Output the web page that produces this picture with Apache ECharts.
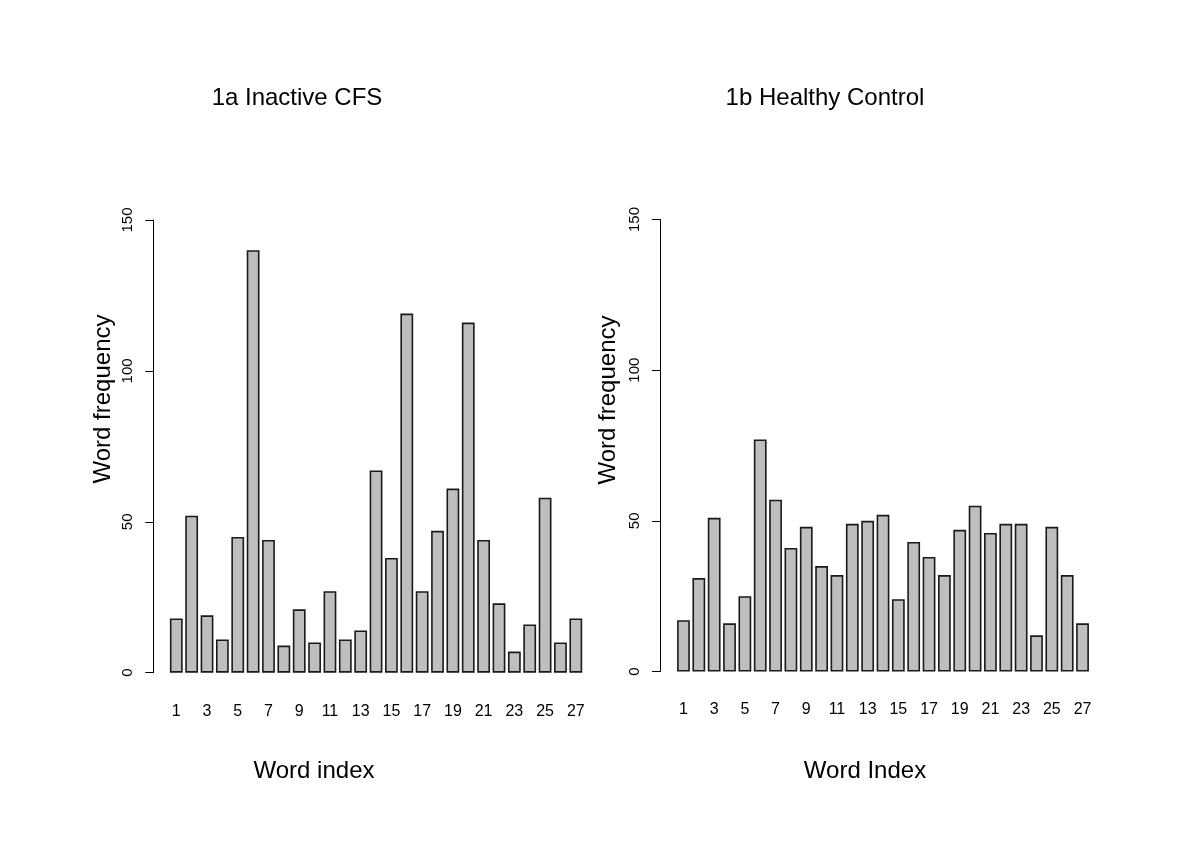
<!DOCTYPE html>
<html>
<head>
<meta charset="utf-8">
<script src="https://cdn.jsdelivr.net/npm/echarts@6/dist/echarts.min.js"></script>
<style>
  html, body { margin: 0; padding: 0; background: #fff; }
  #chart { width: 1200px; height: 847px; }
</style>
</head>
<body>
<div id="chart"></div>
<script>
const wordIndex = ['1','2','3','4','5','6','7','8','9','10','11','12','13','14','15','16','17','18','19','20','21','22','23','24','25','26','27'];
const inactiveCFS = [18, 52, 19, 11, 45, 140, 44, 9, 21, 10, 27, 11, 14, 67, 38, 119, 27, 47, 61, 116, 44, 23, 7, 16, 58, 10, 18];
const healthyControl = [17, 31, 51, 16, 25, 77, 57, 41, 48, 35, 32, 49, 50, 52, 24, 43, 38, 32, 47, 55, 46, 49, 49, 12, 48, 32, 16];
const yTicks = [0, 50, 100, 150];
const panelTitles = ['1a Inactive CFS', '1b Healthy Control'];
const xNames = ['Word index', 'Word Index'];
const yName = 'Word frequency';

const FONT = '"Liberation Sans", Arial, sans-serif';
const chart = echarts.init(document.getElementById('chart'));

function xAxisCfg(gi, margin) {
  return {
    type: 'category', gridIndex: gi, data: wordIndex,
    axisLine: { show: false }, axisTick: { show: false },
    axisLabel: { interval: 1, fontFamily: FONT, fontSize: 16, color: '#000', margin: margin }
  };
}
function yAxisCfg(gi, off) {
  return {
    type: 'value', gridIndex: gi, min: yTicks[0], max: yTicks[yTicks.length - 1],
    interval: yTicks[1] - yTicks[0], offset: off,
    axisLine: { show: true, lineStyle: { color: '#000', width: 1 } },
    axisTick: { show: true, length: 8, lineStyle: { color: '#000', width: 1 } },
    axisLabel: { rotate: 90, fontFamily: FONT, fontSize: 15, color: '#000', margin: 18 },
    splitLine: { show: false }
  };
}
function barSeries(gi, data) {
  return {
    type: 'bar', xAxisIndex: gi, yAxisIndex: gi, data: data,
    barCategoryGap: '16.7%',
    itemStyle: { color: '#BEBEBE', borderColor: '#1a1a1a', borderWidth: 1.6 },
    silent: true, animation: false
  };
}
function txt(x, y, text, rot) {
  return {
    type: 'text', x: x, y: y, rotation: rot || 0,
    style: { text: text, font: '24px ' + FONT, fill: '#000',
             textAlign: 'center', textVerticalAlign: 'middle',
             align: 'center', verticalAlign: 'middle' }
  };
}

chart.setOption({
  animation: false,
  backgroundColor: '#fff',
  grid: [
    { left: 168.6, top: 220, width: 414.9, height: 452.7 },
    { left: 675.8, top: 219.5, width: 414.4, height: 452 }
  ],
  xAxis: [xAxisCfg(0, 31), xAxisCfg(1, 30)],
  yAxis: [yAxisCfg(0, 15.3), yAxisCfg(1, 15.8)],
  series: [barSeries(0, inactiveCFS), barSeries(1, healthyControl)],
  graphic: [
    txt(297, 98, panelTitles[0]),
    txt(825, 98, panelTitles[1]),
    txt(314, 771, xNames[0]),
    txt(865, 771, xNames[1]),
    txt(103, 399, yName, Math.PI / 2),
    txt(608, 400, yName, Math.PI / 2)
  ]
});
</script>
</body>
</html>
